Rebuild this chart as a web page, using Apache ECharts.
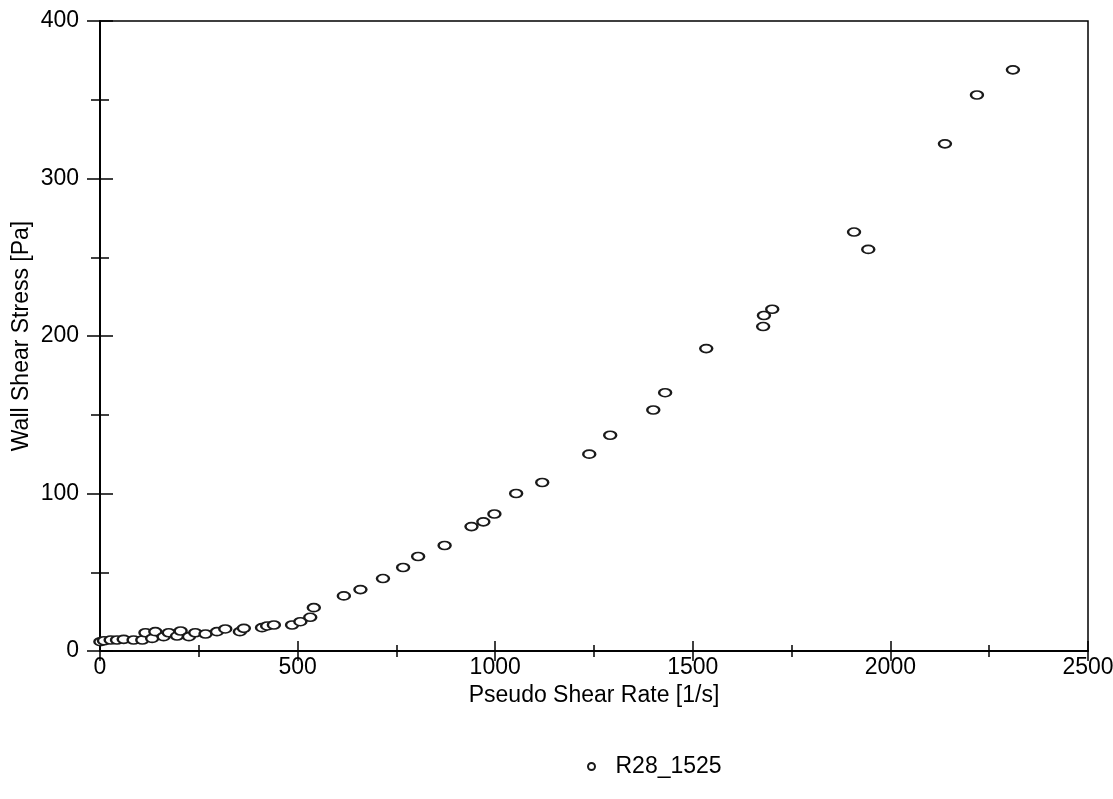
<!DOCTYPE html>
<html>
<head>
<meta charset="utf-8">
<title>R28_1525</title>
<script src="https://cdn.jsdelivr.net/npm/echarts@6/dist/echarts.min.js"></script>
<style>
  html, body { margin: 0; padding: 0; background: #fff; }
  #chart { width: 1113px; height: 799px; }
</style>
</head>
<body>
<div id="chart"></div>
<script>
// Pseudo shear rate [1/s] and wall shear stress [Pa] for run R28_1525
const shearRate = [1, 10, 27, 43, 60, 85, 107, 115, 132, 140, 161, 174, 195, 204, 225, 241, 267, 296, 317, 354, 364, 410, 423, 440, 486, 507, 532, 541, 617, 659, 716, 767, 805, 872, 940, 970, 998, 1053, 1119, 1238, 1291, 1400, 1430, 1534, 1678, 1680, 1701, 1908, 1944, 2138, 2219, 2310];
const wallStress = [5.9, 6.5, 7, 7, 7.4, 7, 7, 11.6, 8, 12.3, 9.1, 11.6, 9.5, 12.7, 9.1, 11.6, 10.8, 12.3, 14, 12.3, 14.4, 14.8, 15.9, 16.5, 16.5, 18.6, 21.4, 27.5, 35, 39, 46, 53, 60, 67, 79, 82, 87, 100, 107, 125, 137, 153, 164, 192, 206, 213, 217, 266, 255, 322, 353, 369];
const seriesName = 'R28_1525';
const xTicks = { min: 0, max: 2500, interval: 500 };
const yTicks = { min: 0, max: 400, interval: 100 };

const points = shearRate.map((x, i) => [x, wallStress[i]]);
const FONT = 'Liberation Sans, Arial, sans-serif';
const FS = 23;
const AX = { color: '#000', width: 1.5 };
const plain = v => String(v);

// Each axis is drawn twice (outside + inside ticks) so the major ticks form crosses.
function xAxisDef(inside, withLabels) {
  return {
    type: 'value', position: 'bottom', min: xTicks.min, max: xTicks.max, interval: xTicks.interval,
    name: withLabels ? 'Pseudo Shear Rate [1/s]' : '',
    nameLocation: 'middle', nameGap: 29,
    nameTextStyle: { color: '#000', fontSize: FS, fontFamily: FONT },
    axisLine: { show: true, onZero: false, lineStyle: AX },
    axisTick: { show: true, inside: inside, length: 10, lineStyle: AX },
    minorTick: { show: true, splitNumber: 2, length: 6, lineStyle: AX },
    axisLabel: { show: withLabels, color: '#000', fontSize: FS, fontFamily: FONT, margin: 5, formatter: plain },
    splitLine: { show: false }
  };
}
function yAxisDef(inside, withLabels) {
  return {
    type: 'value', position: 'left', min: yTicks.min, max: yTicks.max, interval: yTicks.interval,
    name: withLabels ? 'Wall Shear Stress [Pa]' : '',
    nameLocation: 'middle', nameGap: 67, nameRotate: 90, nameMoveOverlap: false,
    nameTextStyle: { color: '#000', fontSize: FS, fontFamily: FONT },
    axisLine: { show: true, onZero: false, lineStyle: AX },
    axisTick: { show: true, inside: inside, length: 13, lineStyle: AX },
    minorTick: { show: true, splitNumber: 2, length: 9, lineStyle: AX },
    axisLabel: { show: withLabels, color: '#000', fontSize: FS, fontFamily: FONT, margin: 21, formatter: plain },
    splitLine: { show: false }
  };
}

const chart = echarts.init(document.getElementById('chart'), null, { renderer: 'canvas' });
chart.setOption({
  backgroundColor: '#fff',
  animation: false,
  grid: {
    left: 100, right: 25, top: 21, bottom: 148,
    outerBoundsMode: 'none', containLabel: false,
    show: true, borderColor: '#000', borderWidth: 1.5, backgroundColor: 'transparent'
  },
  xAxis: [xAxisDef(false, true), xAxisDef(true, false)],
  yAxis: [yAxisDef(false, true), yAxisDef(true, false)],
  legend: {
    left: 582, top: 750,
    itemWidth: 10, itemHeight: 7, itemGap: 10,
    textStyle: { color: '#000', fontSize: FS, fontFamily: FONT, padding: [0, 0, 0, 14] },
    data: [{ name: seriesName, icon: 'emptyCircle' }]
  },
  series: [{
    name: seriesName,
    type: 'scatter',
    xAxisIndex: 0,
    yAxisIndex: 0,
    data: points,
    symbol: 'emptyCircle',
    symbolSize: [12, 8],
    itemStyle: { color: '#1a1a1a', borderColor: '#1a1a1a', borderWidth: 0.9, opacity: 1 }
  }]
});
</script>
</body>
</html>
